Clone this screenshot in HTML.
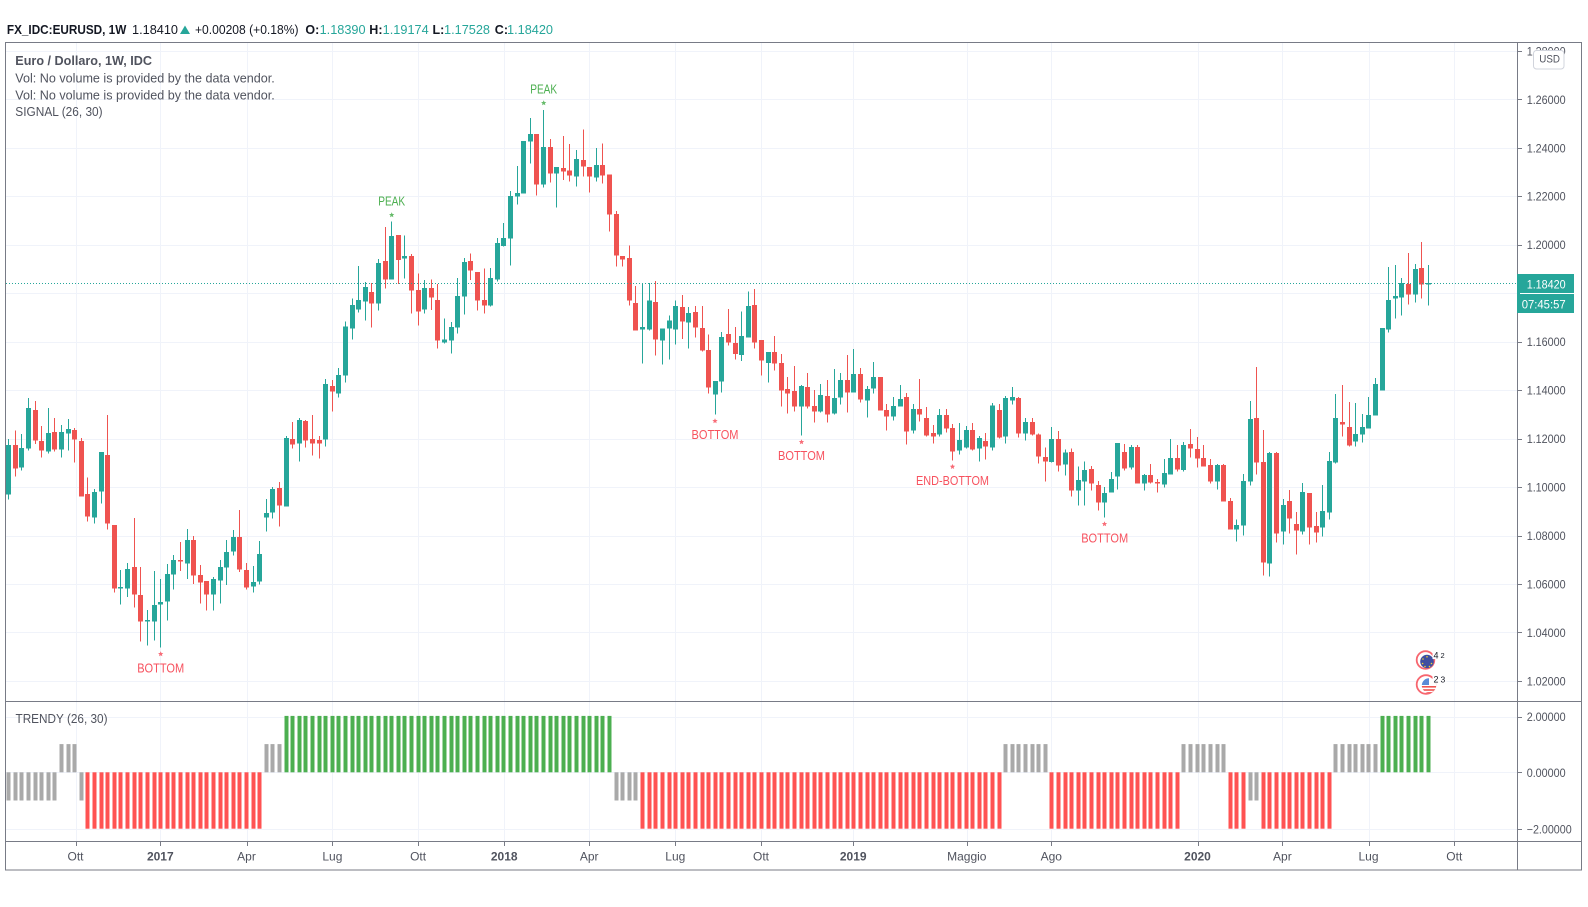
<!DOCTYPE html>
<html><head><meta charset="utf-8">
<style>
html,body{margin:0;padding:0;background:#fff;width:1588px;height:907px;overflow:hidden}
svg{display:block}
text{font-family:"Liberation Sans",sans-serif}
</style></head><body>
<svg id="c" width="1588" height="907" viewBox="0 0 1588 907" xmlns="http://www.w3.org/2000/svg">
<defs>
<clipPath id="cu"><circle cx="1429" cy="685.5" r="7.2"/></clipPath>
</defs>
<rect x="0" y="0" width="1588" height="907" fill="#fff"/>
<g id="grid"></g>
<g id="bars"></g>
<g id="candles" shape-rendering="crispEdges"></g>
<line x1="6" y1="283.5" x2="1517" y2="283.5" stroke="#26a69a" stroke-width="1" stroke-dasharray="1 2"/>
<g id="marks"></g>

<!-- annotations -->
<g font-size="12.5">
<text x="391.7" y="205.3" text-anchor="middle" fill="#4caf50" textLength="27" lengthAdjust="spacingAndGlyphs">PEAK</text>
<text x="543.7" y="93.3" text-anchor="middle" fill="#4caf50" textLength="27" lengthAdjust="spacingAndGlyphs">PEAK</text>
<text x="160.7" y="672.3" text-anchor="middle" fill="#f7525f" textLength="47" lengthAdjust="spacingAndGlyphs">BOTTOM</text>
<text x="715" y="439" text-anchor="middle" fill="#f7525f" textLength="47" lengthAdjust="spacingAndGlyphs">BOTTOM</text>
<text x="801.5" y="460" text-anchor="middle" fill="#f7525f" textLength="47" lengthAdjust="spacingAndGlyphs">BOTTOM</text>
<text x="952.5" y="485" text-anchor="middle" fill="#f7525f" textLength="73" lengthAdjust="spacingAndGlyphs">END-BOTTOM</text>
<text x="1104.7" y="542.3" text-anchor="middle" fill="#f7525f" textLength="47" lengthAdjust="spacingAndGlyphs">BOTTOM</text>
</g>

<!-- event icons -->
<g>
<circle cx="1425.5" cy="660" r="8.8" fill="#fff" stroke="#f7666f" stroke-width="1.8"/>
<circle cx="1427" cy="661.5" r="6.8" fill="#3f4fa0"/>
<g fill="#f5d02a"><circle cx="1427" cy="656.8" r="0.8"/><circle cx="1423" cy="659" r="0.8"/><circle cx="1422.6" cy="663.5" r="0.8"/><circle cx="1425" cy="666.5" r="0.8"/><circle cx="1429.5" cy="666.5" r="0.8"/><circle cx="1431.5" cy="663.5" r="0.8"/></g>
<rect x="1432.5" y="650" width="14" height="9" fill="#fff"/>
<text x="1433.5" y="658.5" font-size="9" fill="#131722">4</text>
<text x="1440.5" y="658" font-size="7.5" fill="#131722">2</text>
<circle cx="1426" cy="684.5" r="9.3" fill="#fff" stroke="#f7666f" stroke-width="1.8"/>
<g clip-path="url(#cu)">
<rect x="1421" y="677" width="17" height="17" fill="#fff"/>
<rect x="1421" y="686" width="17" height="1.6" fill="#ef5350"/>
<rect x="1421" y="689.2" width="17" height="1.6" fill="#ef5350"/>
<rect x="1421" y="692" width="17" height="2" fill="#ef5350"/>
<rect x="1421" y="678" width="8" height="7" fill="#5b8ad6"/>
</g>
<rect x="1432.5" y="674" width="14" height="9" fill="#fff"/>
<text x="1433.5" y="682.5" font-size="9" fill="#131722">2</text>
<text x="1440.5" y="682.5" font-size="8.5" fill="#131722">3</text>
</g>

<!-- frame -->
<g stroke="#787b86" stroke-width="1" fill="none" shape-rendering="crispEdges">
<rect x="5.5" y="42.5" width="1576" height="827.5"/>
<line x1="1517.5" y1="42.5" x2="1517.5" y2="870"/>
<line x1="5.5" y1="701.5" x2="1581.5" y2="701.5"/>
<line x1="5.5" y1="841.5" x2="1581.5" y2="841.5"/>
</g>
<g id="ticks" stroke="#787b86" stroke-width="1" shape-rendering="crispEdges"></g>

<!-- header -->
<g font-size="12.5" fill="#131722">
<text x="6.9" y="34" font-weight="bold" textLength="119.4" lengthAdjust="spacingAndGlyphs">FX_IDC:EURUSD, 1W</text>
<text x="132" y="34" textLength="46" lengthAdjust="spacingAndGlyphs">1.18410</text>
<polygon points="180,34 190,34 185,25.5" fill="#26a69a"/>
<text x="195" y="34" textLength="103.5" lengthAdjust="spacingAndGlyphs">+0.00208 (+0.18%)</text>
<text x="305.4" y="34" font-weight="bold">O:</text>
<text x="319.6" y="34" fill="#26a69a" textLength="46" lengthAdjust="spacingAndGlyphs">1.18390</text>
<text x="369.3" y="34" font-weight="bold">H:</text>
<text x="382.7" y="34" fill="#26a69a" textLength="46" lengthAdjust="spacingAndGlyphs">1.19174</text>
<text x="432.5" y="34" font-weight="bold">L:</text>
<text x="444" y="34" fill="#26a69a" textLength="46" lengthAdjust="spacingAndGlyphs">1.17528</text>
<text x="494.8" y="34" font-weight="bold">C:</text>
<text x="507" y="34" fill="#26a69a" textLength="46" lengthAdjust="spacingAndGlyphs">1.18420</text>
</g>

<!-- legend -->
<g font-size="12.5" fill="#50535e">
<text x="15.3" y="65" font-weight="bold" textLength="136.7" lengthAdjust="spacingAndGlyphs">Euro / Dollaro, 1W, IDC</text>
<text x="15.3" y="82.5" textLength="259.5" lengthAdjust="spacingAndGlyphs">Vol: No volume is provided by the data vendor.</text>
<text x="15.3" y="99.3" textLength="259.5" lengthAdjust="spacingAndGlyphs">Vol: No volume is provided by the data vendor.</text>
<text x="15.3" y="116" textLength="87.3" lengthAdjust="spacingAndGlyphs">SIGNAL (26, 30)</text>
<text x="15.5" y="723" textLength="92" lengthAdjust="spacingAndGlyphs">TRENDY (26, 30)</text>
</g>

<!-- price axis labels -->
<g font-size="11.5" fill="#50535e">
<text x="1526.7" y="55.3" textLength="39" lengthAdjust="spacingAndGlyphs">1.28000</text>
<text x="1526.7" y="103.8" textLength="39" lengthAdjust="spacingAndGlyphs">1.26000</text>
<text x="1526.7" y="152.3" textLength="39" lengthAdjust="spacingAndGlyphs">1.24000</text>
<text x="1526.7" y="200.7" textLength="39" lengthAdjust="spacingAndGlyphs">1.22000</text>
<text x="1526.7" y="249.2" textLength="39" lengthAdjust="spacingAndGlyphs">1.20000</text>
<text x="1526.7" y="297.7" textLength="39" lengthAdjust="spacingAndGlyphs">1.18000</text>
<text x="1526.7" y="346.1" textLength="39" lengthAdjust="spacingAndGlyphs">1.16000</text>
<text x="1526.7" y="394.6" textLength="39" lengthAdjust="spacingAndGlyphs">1.14000</text>
<text x="1526.7" y="443.1" textLength="39" lengthAdjust="spacingAndGlyphs">1.12000</text>
<text x="1526.7" y="491.6" textLength="39" lengthAdjust="spacingAndGlyphs">1.10000</text>
<text x="1526.7" y="540" textLength="39" lengthAdjust="spacingAndGlyphs">1.08000</text>
<text x="1526.7" y="588.5" textLength="39" lengthAdjust="spacingAndGlyphs">1.06000</text>
<text x="1526.7" y="637" textLength="39" lengthAdjust="spacingAndGlyphs">1.04000</text>
<text x="1526.7" y="685.4" textLength="39" lengthAdjust="spacingAndGlyphs">1.02000</text>
<text x="1526.7" y="721.2" textLength="39" lengthAdjust="spacingAndGlyphs">2.00000</text>
<text x="1526.7" y="776.8" textLength="39" lengthAdjust="spacingAndGlyphs">0.00000</text>
<text x="1526.7" y="833.5" textLength="45" lengthAdjust="spacingAndGlyphs">−2.00000</text>
</g>

<!-- USD badge -->
<rect x="1533.5" y="50.5" width="30.5" height="18.5" rx="3" fill="#fff" stroke="#d1d4dc"/>
<text x="1539.3" y="62.7" font-size="11" fill="#50535e" textLength="20.7" lengthAdjust="spacingAndGlyphs">USD</text>

<!-- current price label -->
<rect x="1517" y="274" width="57" height="39" fill="#26a69a"/>
<line x1="1520" y1="293.5" x2="1574" y2="293.5" stroke="#fff" stroke-width="1"/>
<text x="1526.7" y="288.3" font-size="11.5" fill="#fff" textLength="39" lengthAdjust="spacingAndGlyphs">1.18420</text>
<text x="1521.7" y="308.3" font-size="11.5" fill="#fff" textLength="44" lengthAdjust="spacingAndGlyphs">07:45:57</text>

<!-- time axis labels -->
<g font-size="12" fill="#50535e" text-anchor="middle">
<text x="75.5" y="860.5">Ott</text>
<text x="160.3" y="860.5" font-weight="bold">2017</text>
<text x="246.5" y="860.5">Apr</text>
<text x="332.4" y="860.5">Lug</text>
<text x="418.1" y="860.5">Ott</text>
<text x="504.2" y="860.5" font-weight="bold">2018</text>
<text x="589.2" y="860.5">Apr</text>
<text x="675.3" y="860.5">Lug</text>
<text x="761" y="860.5">Ott</text>
<text x="853.2" y="860.5" font-weight="bold">2019</text>
<text x="966.8" y="860.5">Maggio</text>
<text x="1051.3" y="860.5">Ago</text>
<text x="1197.5" y="860.5" font-weight="bold">2020</text>
<text x="1282.4" y="860.5">Apr</text>
<text x="1368.5" y="860.5">Lug</text>
<text x="1454.3" y="860.5">Ott</text>
</g>
</svg>
<script>
(function(){
var NS="http://www.w3.org/2000/svg";
function el(tag,a,p){var e=document.createElementNS(NS,tag);for(var k in a)e.setAttribute(k,a[k]);p.appendChild(e);return e;}
var G=document.getElementById('grid'),C=document.getElementById('candles'),B=document.getElementById('bars'),M=document.getElementById('marks'),T=document.getElementById('ticks');
function X(i){return 8.75+6.6025*i;}
var vx=[75.5,160.3,246.5,332.4,418.1,504.2,589.2,675.3,761,853.2,966.8,1051.3,1197.5,1282.4,1368.5,1454.3];
vx.forEach(function(x){var xx=Math.round(x)+0.5;
 el('line',{x1:xx,y1:43,x2:xx,y2:841,stroke:'#f0f3fa'},G);
 el('line',{x1:xx,y1:841,x2:xx,y2:846},T);});
for(var k=0;k<14;k++){var y=Math.round(50.83+48.47*k)+0.5;
 el('line',{x1:6,y1:y,x2:1517,y2:y,stroke:'#f0f3fa'},G);
 el('line',{x1:1517,y1:y,x2:1522,y2:y},T);}
[716.7,772.3,829].forEach(function(v){var y=Math.round(v)+0.5;
 el('line',{x1:6,y1:y,x2:1517,y2:y,stroke:'#f0f3fa'},G);
 el('line',{x1:1517,y1:y,x2:1522,y2:y},T);});

var segs=[
{o:190,d:[[0,1,765,913,747,928],[1,0,765,835,722,860],[2,1,774,832,732,842],[3,1,654,776,624,782],[4,0,660,752,633,762],[5,0,753,782,708,803],[6,1,729,785,654,791],[7,0,726,779,684,785],[8,1,726,779,705,803],[9,1,717,731,687,782],[10,0,720,749,714,818],[11,0,753,920,744,920],[12,0,912,980,863,995],[13,1,906,983,897,1001],[14,1,786,905,786,941],[15,0,795,1001,675,1019],[16,0,1005,1196,1005,1208],[17,1,1191,1196,1140,1244],[18,1,1137,1196,1119,1221],[19,0,1131,1214,984,1252],[20,0,1215,1295,1131,1355],[21,1,1290,1295,1260,1367],[22,1,1245,1295,1143,1352],[23,1,1236,1244,1167,1373],[24,1,1152,1235,1122,1292],[25,1,1110,1154,1095,1199],[26,0,1110,1115,1056,1143],[27,1,1050,1121,1017,1167],[28,0,1050,1157,1038,1182],[29,0,1155,1178,1125,1241],[30,0,1173,1214,1173,1262],[31,1,1167,1214,1161,1262],[32,1,1131,1172,1110,1241],[33,1,1086,1133,1050,1185],[34,1,1041,1085,1020,1097],[35,0,1041,1139,960,1146],[36,0,1140,1193,1119,1199],[37,1,1176,1190,1128,1208],[38,1,1092,1175,1053,1184],[39,1,969,983,927,1025],[40,1,897,968,891,986],[41,0,894,947,876,1010],[42,1,744,950,738,950],[43,0,747,764,696,776],[44,1,690,761,684,815],[45,0,693,752,690,773],[46,0,747,761,675,797],[47,0,750,761,738,806],[48,1,582,749,567,770],[49,0,588,605,570,665],[50,1,555,611,534,623],[51,1,410,557,395,578],[52,1,345,416,326,449],[53,1,330,359,228,368],[54,1,291,335,276,392],[55,0,306,341,279,413],[56,1,219,341,207,362],[57,0,213,269,111,296]]},
{o:80,d:[[58,1,468,598,425,598],[59,0,465,540,465,612],[60,1,528,536,467,595],[61,0,528,632,522,701],[62,0,630,695,581,737],[63,1,624,689,600,700],[64,0,624,653,598,690],[65,0,660,782,612,805],[66,1,779,788,716,790],[67,1,741,782,726,821],[68,1,648,743,594,760],[69,1,546,650,534,704],[70,0,543,572,521,600],[71,0,576,662,576,692],[72,0,660,677,566,700],[73,1,594,677,564,680],[74,1,489,599,474,604],[75,1,474,498,429,500],[76,1,348,476,333,557],[77,1,339,350,258,374],[78,1,183,341,183,341],[79,1,162,185,114,250],[80,0,162,314,162,347],[81,1,201,314,90,322],[82,0,201,281,177,308],[83,1,261,281,261,382],[84,0,264,275,168,300],[85,0,272,287,192,305],[86,1,237,290,210,320],[87,0,240,260,148,290],[88,0,261,290,261,338],[89,1,255,293,204,305],[90,0,255,287,191,310],[91,0,284,404,284,455],[92,0,402,527,393,560],[93,0,528,539,528,560],[94,0,534,662,497,676],[95,0,669,752,618,752],[96,1,741,749,609,851],[97,1,662,749,609,752],[98,0,666,779,603,827],[99,1,746,782,746,854],[100,1,722,746,706,839],[101,1,678,749,662,794],[102,0,681,725,645,777],[103,1,699,728,681,806],[104,0,696,743,678,773],[105,0,744,812,678,815],[106,0,810,923,764,941],[107,1,903,944,903,1004],[108,1,771,905,756,937],[109,0,762,788,687,797],[110,0,789,822,741,839],[111,1,768,825,695,843],[112,1,678,773,635,773],[113,0,675,788,627,806],[114,0,780,842,780,887],[115,1,816,849,816,908],[116,0,816,851,768,872]]},
{o:270,d:[[117,0,279,362,252,410],[118,0,357,371,321,431],[119,0,363,410,288,425],[120,1,348,410,345,497],[121,0,351,410,309,416],[122,0,408,425,360,458],[123,1,375,425,342,428],[124,0,378,434,330,458],[125,1,384,431,297,434],[126,1,330,383,309,404],[127,0,330,368,255,428],[128,1,312,368,237,368],[129,0,312,389,294,398],[130,1,357,392,348,443],[131,1,321,356,276,371],[132,0,321,422,321,422],[133,0,420,440,402,482],[134,1,408,440,381,452],[135,1,387,410,345,410],[136,0,381,485,369,524],[137,1,417,482,402,491],[138,0,417,434,327,455],[139,0,444,497,411,500],[140,0,489,500,465,521],[141,1,435,494,417,500],[142,0,435,476,417,488],[143,0,474,545,462,572],[144,1,510,542,459,554],[145,1,480,533,468,536],[146,0,480,539,459,542],[147,1,504,536,498,575],[148,0,513,530,489,569],[149,1,407,532,399,542],[150,0,420,503,402,506],[151,1,384,500,378,521],[152,1,381,392,351,404],[153,0,384,491,381,503],[154,1,456,491,444,512],[155,0,456,494,444,497],[156,0,494,560,491,581],[157,0,561,575,533,635],[158,1,507,576,471,578],[159,0,507,587,483,605],[160,1,548,584,539,617],[161,0,546,662,536,680],[162,1,630,662,590,707],[163,1,600,635,575,707],[164,0,597,641,588,662],[165,0,645,698,633,722],[166,1,669,698,651,743],[167,1,627,668,606,668],[168,1,519,620,519,659],[169,0,546,596,522,602],[170,1,531,593,525,599],[171,0,531,641,525,641],[172,1,615,641,612,662],[173,0,615,638,582,641],[174,0,636,640,627,668],[175,1,609,644,567,653],[176,1,564,614,507,614],[177,0,564,599,525,605],[178,1,525,600,516,605]]},
{o:230,d:[[179,0,642,656,597,683],[180,0,657,686,621,713],[181,0,684,710,645,710],[182,0,705,755,687,761],[183,1,705,755,702,779],[184,0,705,815,702,815],[185,0,813,899,804,899],[186,1,885,899,869,935],[187,1,753,887,732,917],[188,1,567,755,513,767],[189,0,564,698,411,734],[190,0,696,998,600,1037],[191,1,669,1001,666,1040],[192,0,669,911,666,938],[193,1,825,905,807,944],[194,0,813,866,780,911],[195,0,882,902,846,974],[196,1,786,905,759,914],[197,0,789,893,789,944],[198,0,888,908,846,938],[199,1,843,893,765,920],[200,1,693,848,666,869],[201,1,564,698,492,701],[202,0,576,584,465,620],[203,0,591,647,516,650],[204,1,612,635,519,650],[205,1,591,614,552,638],[206,1,555,596,501,596],[207,1,462,557,444,557],[208,1,294,482,294,482],[209,1,210,299,111,308],[210,1,198,206,105,266],[211,1,159,203,144,257],[212,0,162,194,69,224],[213,1,117,194,102,218],[214,0,114,164,36,206],[215,1,159,164,105,227]]}
];
segs.forEach(function(s){s.d.forEach(function(a){
 var i=a[0],col=a[1]?'#26a69a':'#ef5350';
 var L=Math.round(X(i)-2.5);
 var w1=s.o+a[4]/3,w2=s.o+a[5]/3,t=s.o+a[2]/3,b=s.o+a[3]/3;
 el('rect',{x:L+2,y:w1.toFixed(2),width:1,height:Math.max(1,w2-w1).toFixed(2),fill:col},C);
 el('rect',{x:L,y:t.toFixed(2),width:5,height:Math.max(1,b-t).toFixed(2),fill:col},C);
});});

function tv(i){
 if(i<=7)return -1; if(i<=10)return 1; if(i==11)return -1;
 if(i<=38)return -2; if(i<=41)return 1; if(i<=91)return 2;
 if(i<=95)return -1; if(i<=150)return -2; if(i<=157)return 1;
 if(i<=177)return -2; if(i<=184)return 1; if(i<=187)return -2;
 if(i<=189)return -1; if(i<=200)return -2; if(i<=207)return 1; return 2;}
var zero=772.3,unit=28.2;
for(var i=0;i<=215;i++){var v=tv(i);
 var col=v==2?'#4caf50':(v==-2?'#ff5252':'#a9a9a9');
 var L=Math.round(X(i)-2.5)+0.5;
 var y1=v>0?zero-v*unit:zero, h=Math.abs(v)*unit;
 el('rect',{x:L,y:y1.toFixed(2),width:4,height:h.toFixed(2),fill:col},B);}

function star(cx,cy,r,col){var p=[];for(var j=0;j<10;j++){var rr=j%2?r*0.45:r;var a=-Math.PI/2+j*Math.PI/5;p.push((cx+rr*Math.cos(a)).toFixed(2)+','+(cy+rr*Math.sin(a)).toFixed(2));}
 el('polygon',{points:p.join(' '),fill:col,'fill-opacity':0.85},M);}
star(391.7,215,2.8,'#4caf50');
star(543.7,103,2.8,'#4caf50');
star(160.7,654,2.8,'#f7525f');
star(715,421,2.8,'#f7525f');
star(801.5,442,2.8,'#f7525f');
star(952.5,466.7,2.8,'#f7525f');
star(1104.5,524,2.8,'#f7525f');
})();
</script>
</body></html>
